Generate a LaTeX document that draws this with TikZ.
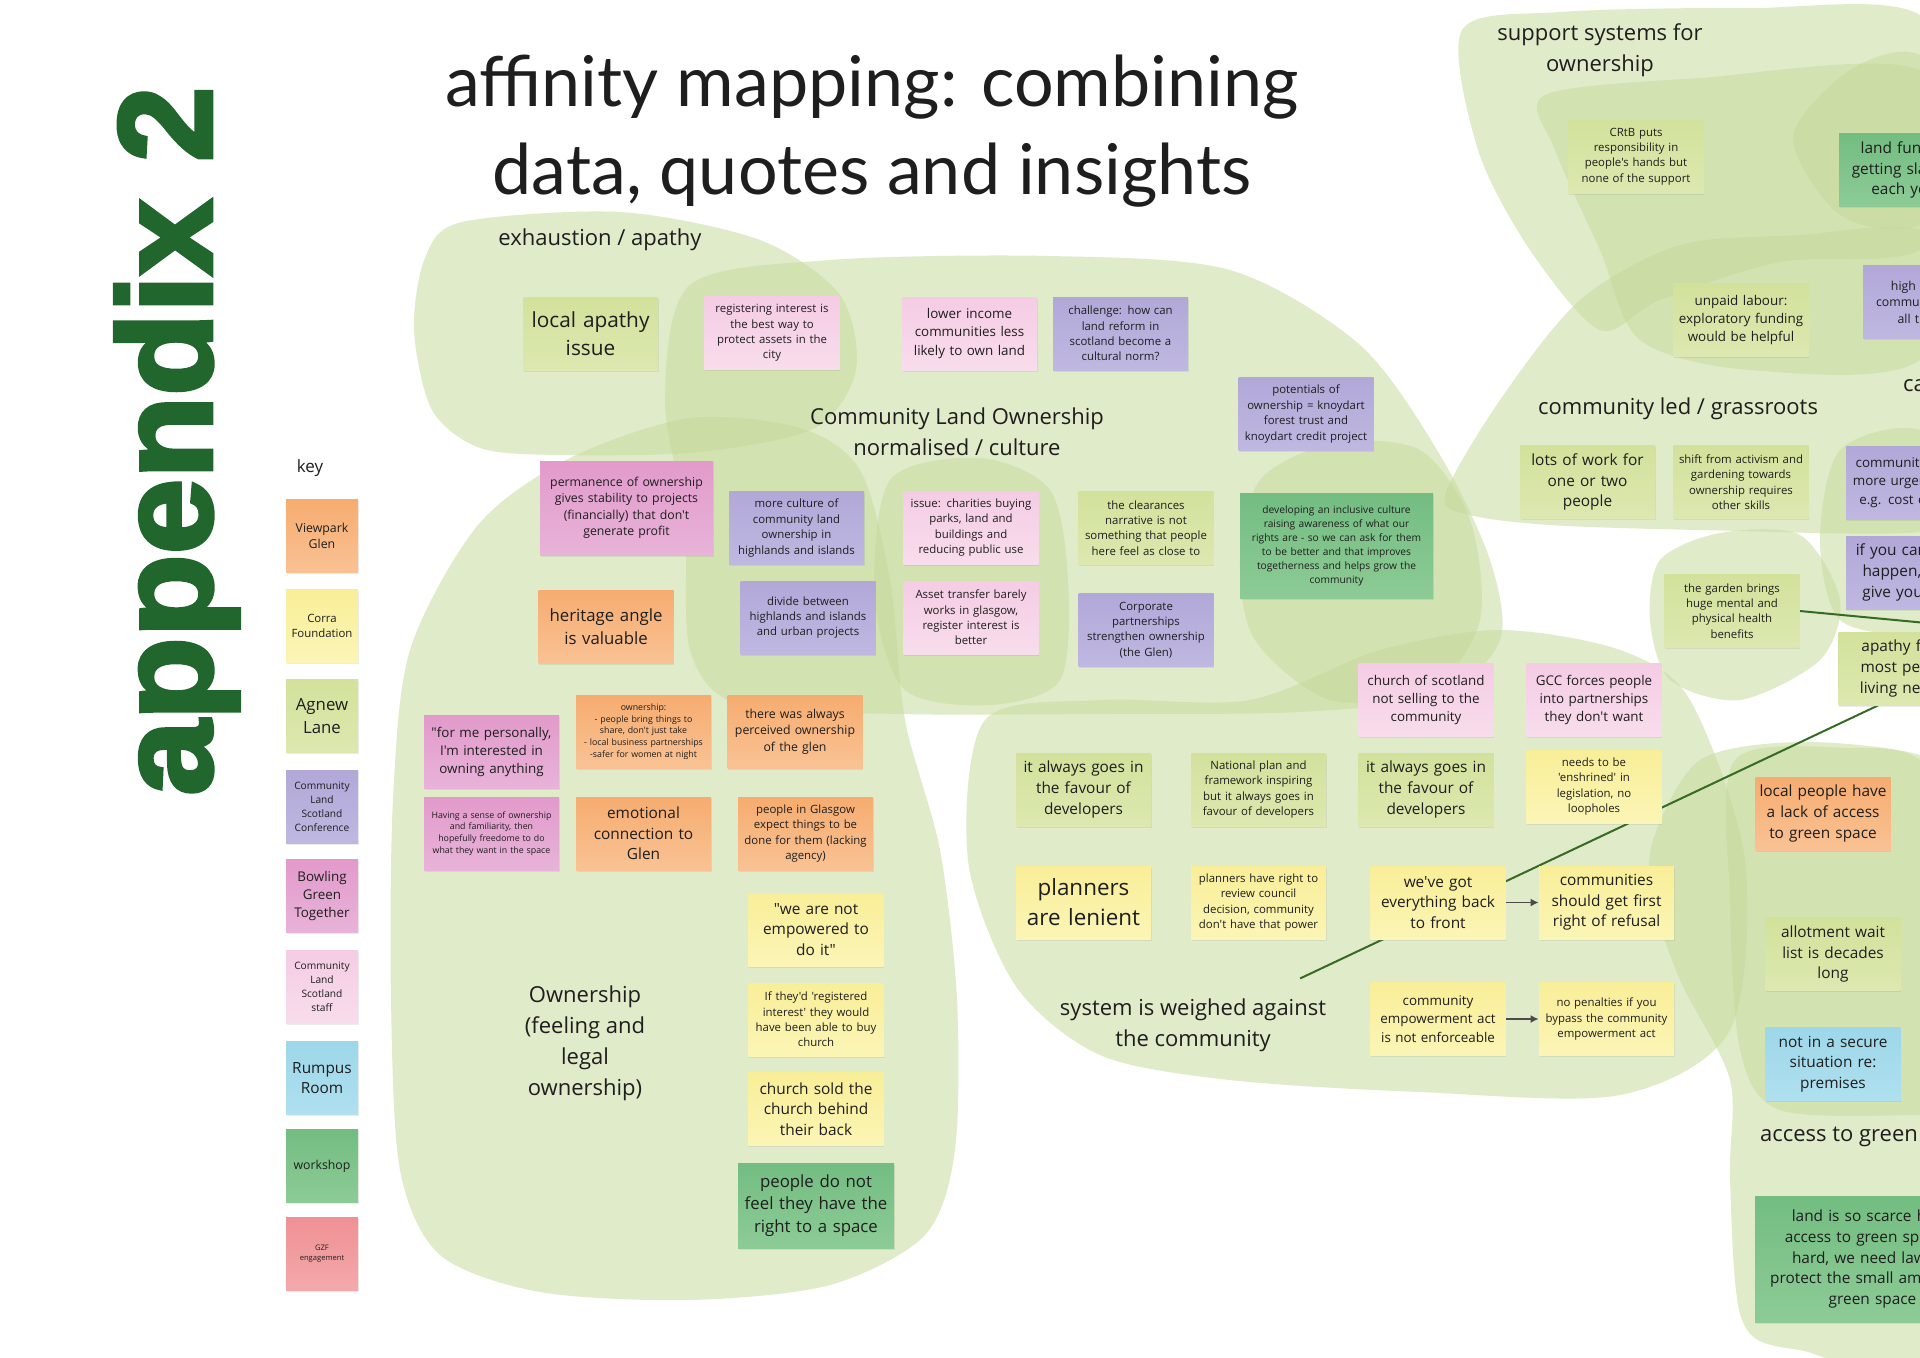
\documentclass[tikz,border=0pt]{standalone}
\usepackage{fontspec}
\setmainfont{Open Sans}[Ligatures=TeXOff]
\newfontfamily\titlefont{Lato}[Ligatures=TeXOff]
\newfontfamily\heavyfont{Liberation Sans}[BoldFeatures={FakeBold=3}]
\usetikzlibrary{arrows.meta,calc,shadows}
\definecolor{ink}{HTML}{1E1E1E}
\definecolor{deep}{HTML}{21662D}
\definecolor{blob}{HTML}{C6DA9C}
\definecolor{wire}{HTML}{366B24}
\definecolor{ora1}{HTML}{F6AC70}
\definecolor{ora2}{HTML}{F9C294}
\definecolor{yel1}{HTML}{F9EE98}
\definecolor{yel2}{HTML}{FBF5B6}
\definecolor{lim1}{HTML}{D2E29B}
\definecolor{lim2}{HTML}{DCE8B0}
\definecolor{pur1}{HTML}{B1A8D8}
\definecolor{pur2}{HTML}{BFB8E1}
\definecolor{pnk1}{HTML}{E29ACB}
\definecolor{pnk2}{HTML}{E8B3D9}
\definecolor{lpk1}{HTML}{F5CCE4}
\definecolor{lpk2}{HTML}{F8DDEC}
\definecolor{blu1}{HTML}{9DD7EA}
\definecolor{blu2}{HTML}{AFE0EF}
\definecolor{grn1}{HTML}{73BD81}
\definecolor{grn2}{HTML}{8DCB96}
\definecolor{red1}{HTML}{EF9194}
\definecolor{red2}{HTML}{F3A9AB}
\newcommand{\fsz}[2]{\fontsize{#1}{#2}\selectfont}
\pgfdeclarelayer{blobs}
\pgfdeclarelayer{wires}
\pgfsetlayers{blobs,wires,main}
\tikzset{
  note/.style={inner xsep=2pt,inner ysep=1pt,align=center,text width=63.5pt,minimum height=36.5pt,text=ink,
    drop shadow={shadow xshift=.4pt,shadow yshift=-.8pt,opacity=.15}},
  keynote/.style={note,text width=33pt,inner xsep=1.5pt},
  sora/.style={top color=ora1,bottom color=ora2},
  syel/.style={top color=yel1,bottom color=yel2},
  slim/.style={top color=lim1,bottom color=lim2},
  spur/.style={top color=pur1,bottom color=pur2},
  spnk/.style={top color=pnk1,bottom color=pnk2},
  slpk/.style={top color=lpk1,bottom color=lpk2},
  sblu/.style={top color=blu1,bottom color=blu2},
  sgrn/.style={top color=grn1,bottom color=grn2},
  sred/.style={top color=red1,bottom color=red2},
  f1/.style={font=\fsz{4.4}{5.9}},
  fa/.style={font=\fsz{5.1}{7}},
  f2/.style={font=\fsz{5.7}{7.7}},
  f3/.style={font=\fsz{6.15}{8.25}},
  f4/.style={font=\fsz{6.7}{9.1}},
  f5/.style={font=\fsz{7.7}{10.3}},
  f6/.style={font=\fsz{8.4}{11.3}},
  f7/.style={font=\fsz{10.4}{14}},
  f8/.style={font=\fsz{11.2}{15}},
  lbl/.style={align=center,text=ink,font=\fsz{11}{15.5}},
  ttl/.style={align=center,text=ink,font=\titlefont\fsz{35}{43.6},inner sep=0pt},
  ar/.style={-{Latex[length=4pt,width=4pt]},draw=ink!80,line width=.7pt},
  wl/.style={draw=wire,line width=1pt},
  bl/.style={fill=blob,opacity=.55},
}
\begin{document}
\begin{tikzpicture}[x=0.5pt,y=-0.5pt]
\useasboundingbox (0,0) rectangle (1920,1357);
% groups
\begin{pgfonlayer}{blobs}
\fill[bl] plot[smooth cycle] coordinates {(462,222) (620,212) (760,240) (840,295) (856,370) (815,428) (700,452) (560,455) (480,448) (432,410) (414,330) (425,258)};
\fill[bl] plot[smooth cycle] coordinates {(690,285) (830,260) (1050,256) (1230,270) (1360,345) (1440,455) (1490,560) (1500,640) (1440,695) (1300,712) (1100,714) (900,714) (740,705) (690,650) (685,520) (665,400)};
\fill[bl] plot[smooth cycle] coordinates {(478,525) (570,458) (690,418) (800,428) (860,470) (890,580) (905,720) (940,850) (957,1000) (955,1150) (925,1235) (830,1285) (690,1300) (540,1292) (440,1255) (400,1170) (391,1000) (393,800) (410,650)};
\fill[bl] plot[smooth cycle] coordinates {(890,480) (980,458) (1050,490) (1068,580) (1060,680) (990,705) (905,690) (875,600)};
\fill[bl] plot[smooth cycle] coordinates {(1260,480) (1333,443) (1420,450) (1470,520) (1480,620) (1430,690) (1330,700) (1255,640) (1240,560)};
\fill[bl] plot[smooth cycle] coordinates {(985,720) (1100,700) (1250,700) (1380,650) (1500,630) (1620,650) (1690,700) (1745,860) (1730,1030) (1620,1095) (1420,1092) (1230,1080) (1100,1055) (1015,985) (968,860)};
\fill[bl] plot[smooth cycle] coordinates {(1462,30) (1560,12) (1750,8) (1920,15) (1980,150) (1920,250) (1780,262) (1660,300) (1600,330) (1530,250) (1478,150)};
\fill[bl] plot[smooth cycle] coordinates {(1545,95) (1700,78) (1920,70) (1980,200) (1920,360) (1750,370) (1640,340) (1600,250) (1555,150)};
\fill[bl] plot[smooth cycle] coordinates {(1445,495) (1500,400) (1580,300) (1680,245) (1800,235) (1920,230) (1990,300) (1990,500) (1920,532) (1700,530) (1550,525) (1470,515)};
\fill[bl] plot[smooth cycle] coordinates {(1793,137) (1850,70) (1920,55) (1990,140) (1920,225) (1840,215)};
\fill[bl] plot[smooth cycle] coordinates {(1660,560) (1720,533) (1800,535) (1840,600) (1820,660) (1740,700) (1670,680) (1650,620)};
\fill[bl] plot[smooth cycle] coordinates {(1840,450) (1920,430) (1990,500) (1990,620) (1920,635) (1840,620) (1820,540)};
\fill[bl] plot[smooth cycle] coordinates {(1653,840) (1700,760) (1800,742) (1920,755) (1990,800) (1990,1357) (1800,1350) (1742,1320) (1730,1180) (1730,1080) (1680,980) (1653,900)};
\fill[bl] plot[smooth cycle] coordinates {(1735,760) (1850,748) (1920,760) (1990,850) (1990,1110) (1920,1115) (1780,1110) (1740,1050) (1730,900)};
\end{pgfonlayer}
% headings
\node[rotate=90,inner sep=0pt,text=deep] (app) at (177,441) {\resizebox*{354.5pt}{62pt}{\heavyfont\bfseries appendix 2}};
\node[ttl] (title) at (872,131) {affinity mapping: combining\\data, quotes and insights};
\node[lbl,font=\fsz{8.5}{10}] (key) at (310,468) {key};
\node[lbl] (exh) at (600,240) {exhaustion / apathy};
\node[lbl] (cult) at (957,432) {Community Land Ownership\\normalised / culture};
\node[lbl] (own) at (585,1043) {Ownership\\(feeling and\\legal\\ownership)};
\node[lbl] (sysw) at (1193,1025) {system is weighed against\\the community};
\node[lbl] (supp) at (1600,50) {support systems for\\ownership};
\node[lbl] (comm) at (1678,409) {community led / grassroots};
\node[lbl,anchor=west] (cap) at (1896,386) {capacity};
\node[lbl,anchor=west] (acc) at (1753,1137) {access to green space};
% key
\node[keynote,sora,f3] (kvg) at (322,536) {Viewpark\\Glen};
\node[keynote,syel,f2] (kcf) at (322,626) {Corra\\Foundation};
\node[keynote,slim,f6] (kal) at (322,716) {Agnew\\Lane};
\node[keynote,spur,fa] (kcc) at (322,807) {Community\\Land\\Scotland\\Conference};
\node[keynote,spnk,f4] (kbg) at (322,896) {Bowling\\Green\\Together};
\node[keynote,slpk,fa] (kcs) at (322,987) {Community\\Land\\Scotland\\staff};
\node[keynote,sblu,f5] (krr) at (322,1078) {Rumpus\\Room};
\node[keynote,sgrn,f3] (kws) at (322,1166) {workshop};
\node[keynote,sred,font=\fsz{3.8}{5}] (kgz) at (322,1254) {GZF\\engagement};
% left and centre
\node[note,slim,f7] (lapathy) at (590.5,333.5) {local apathy\\issue};
\node[note,slpk,f2] (regint) at (772,333) {registering interest is\\the best way to\\protect assets in the\\city};
\node[note,slpk,f4] (lowinc) at (969.5,333.5) {lower income\\communities less\\likely to own land};
\node[note,spur,f2] (chall) at (1120.5,333.5) {challenge: how can\\land reform in\\scotland become a\\cultural norm?};
\node[note,spur,f2] (potent) at (1306,414) {potentials of\\ownership = knoydart\\forest trust and\\knoydart credit project};
\node[note,spnk,f3,text width=82.5pt,minimum height=47pt] (perm) at (626.5,508) {permanence of ownership\\gives stability to projects\\(financially) that don't\\generate profit};
\node[note,spur,f2] (mcult) at (796.5,528) {more culture of\\community land\\ownership in\\highlands and islands};
\node[note,slpk,f2] (issch) at (971,527.5) {issue: charities buying\\parks, land and\\buildings and\\reducing public use};
\node[note,slim,f2] (clear) at (1146,528) {the clearances\\narrative is not\\something that people\\here feel as close to};
\node[note,sgrn,fa,text width=92.5pt,minimum height=52.5pt] (devel) at (1336.5,545.5) {developing an inclusive culture\\raising awareness of what our\\rights are - so we can ask for them\\to be better and that improves\\togetherness and helps grow the\\community};
\node[note,spur,f2] (divide) at (808,617.5) {divide between\\highlands and islands\\and urban projects};
\node[note,slpk,f2] (asset) at (971,617.5) {Asset transfer barely\\works in glasgow,\\register interest is\\better};
\node[note,spur,f2] (corp) at (1146,630) {Corporate\\partnerships\\strengthen ownership\\(the Glen)};
\node[note,sora,f6] (herit) at (606,626.5) {heritage angle\\is valuable};
\node[note,sora,f1] (ownl) at (643.5,731.5) {ownership:\\- people bring things to\\share, don't just take\\- local business partnerships\\-safer for women at night};
\node[note,sora,f3] (perc) at (795,731.5) {there was always\\perceived ownership\\of the glen};
\node[note,spnk,f4] (forme) at (491.5,752) {"for me personally,\\I'm interested in\\owning anything};
\node[note,spnk,f1] (sense) at (491.5,833.5) {Having a sense of ownership\\and familiarity, then\\hopefully freedome to do\\what they want in the space};
\node[note,sora,f5] (emot) at (643.5,833.5) {emotional\\connection to\\Glen};
\node[note,sora,f2] (glas) at (805.5,833.5) {people in Glasgow\\expect things to be\\done for them (lacking\\agency)};
\node[note,syel,f5] (empow) at (816,929.5) {"we are not\\empowered to\\do it"};
\node[note,syel,f2] (regd) at (816,1019.5) {If they'd 'registered\\interest' they would\\have been able to buy\\church};
\node[note,syel,f5] (sold) at (816,1109) {church sold the\\church behind\\their back};
\node[note,sgrn,f6,text width=74pt,minimum height=42.5pt] (right) at (816,1205.5) {people do not\\feel they have the\\right to a space};
% system
\node[note,slpk,f4] (cos) at (1426,700) {church of scotland\\not selling to the\\community};
\node[note,slpk,f4] (gcc) at (1594,700) {GCC forces people\\into partnerships\\they don't want};
\node[note,slim,f5] (fav1) at (1083.5,789.5) {it always goes in\\the favour of\\developers};
\node[note,slim,f2] (natl) at (1258.5,789.5) {National plan and\\framework inspiring\\but it always goes in\\favour of developers};
\node[note,slim,f5] (fav2) at (1426,789.5) {it always goes in\\the favour of\\developers};
\node[note,syel,f2] (enshr) at (1594,786.5) {needs to be\\'enshrined' in\\legislation, no\\loopholes};
\node[note,syel,f8] (plan) at (1083.5,902.5) {planners\\are lenient};
\node[note,syel,f2] (prev) at (1258.5,902.5) {planners have right to\\review council\\decision, community\\don't have that power};
\node[note,syel,f5] (back) at (1438,902.5) {we've got\\everything back\\to front};
\node[note,syel,f5] (first) at (1606.5,902.5) {communities\\should get first\\right of refusal};
\node[note,syel,f4] (cea) at (1438,1019) {community\\empowerment act\\is not enforceable};
\node[note,syel,f2] (pen) at (1606.5,1019) {no penalties if you\\bypass the community\\empowerment act};
% right
\node[note,slim,f2] (crtb) at (1636,156.5) {CRtB puts\\responsibility in\\people's hands but\\none of the support};
\node[note,sgrn,f5] (lfund) at (1906.5,170) {land funding\\getting slashed\\each year};
\node[note,slim,f4] (unpaid) at (1741,320) {unpaid labour:\\exploratory funding\\would be helpful};
\node[note,spur,f3] (high) at (1930.5,302) {high costs for\\community groups\\all the time};
\node[note,slim,f5] (lots) at (1587.5,482) {lots of work for\\one or two\\people};
\node[note,slim,f2] (shift) at (1741,482) {shift from activism and\\gardening towards\\ownership requires\\other skills};
\node[note,spur,f4] (curg) at (1913.5,482.5) {communities have\\more urgent needs\\e.g. cost of living};
\node[note,spur,f5] (ifyou) at (1913.5,572.5) {if you can see it\\happen, it will\\give you hope};
\node[note,slim,f2] (garden) at (1732,611) {the garden brings\\huge mental and\\physical health\\benefits};
\node[note,slim,f5] (apathy) at (1906,668.5) {apathy from\\most people\\living nearby};
\node[note,sora,f5] (lpeople) at (1823,813.5) {local people have\\a lack of access\\to green space};
\node[note,slim,f5] (allot) at (1833,954) {allotment wait\\list is decades\\long};
\node[note,sblu,f5] (secure) at (1833,1064) {not in a secure\\situation re:\\premises};
\node[note,sgrn,f5,text width=113.5pt,minimum height=63pt] (scarce) at (1872.5,1259) {land is so scarce here,\\access to green space is\\hard, we need laws to\\protect the small amount of\\green space};
\coordinate (gtail) at (1990,629);
% links
\begin{pgfonlayer}{wires}
\draw[wl] ($(sysw.north east)+(-33,-13)$) -- ($(apathy.south west)+(40,0)$);
\draw[wl] (garden.east) -- (gtail);
\end{pgfonlayer}
\draw[ar] (back) -- (first);
\draw[ar] (cea) -- (pen);
\end{tikzpicture}
\end{document}
